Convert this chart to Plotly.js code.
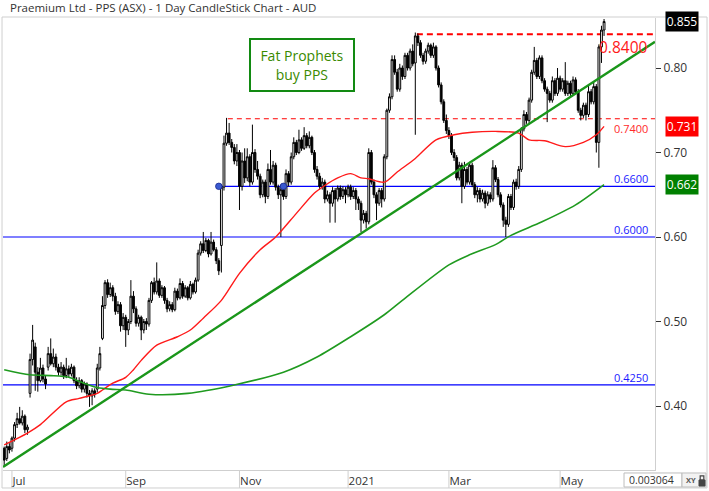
<!DOCTYPE html>
<html>
<head>
<meta charset="utf-8">
<script src="https://cdn.plot.ly/plotly-3.0.1.min.js"></script>
<style>html,body{margin:0;padding:0;background:#fff;}#chart{width:709px;height:491px;}</style>
</head>
<body>
<div id="chart"></div>
<script>
// ---- calendar ----
const firstDay = '2020-06-26';
const holidays = ['2020-12-25','2020-12-28','2021-01-01','2021-01-26','2021-04-02','2021-04-05'];
const tickDates = ['2020-07-01','2020-09-01','2020-11-02','2021-01-04','2021-03-01','2021-05-03'];
const tickLabels = ['Jul','Sep','Nov','2021','Mar','May'];

// ---- daily candles (AUD) ----
const open = [
.350,.338,.352,.350,.362,.378,.385,.380,.388,.372,
.415,.455,.470,.440,.430,.445,.432,.446,.462,.450,
.458,.446,.440,.446,.436,.444,.438,.446,.430,.424,
.430,.420,.426,.415,.412,.418,.420,.445,.480,.519,
.546,.532,.540,.530,.512,.520,.495,.505,.490,.500,
.530,.515,.498,.505,.490,.500,.497,.525,.546,.535,
.548,.531,.540,.525,.515,.520,.514,.536,.528,.545,
.530,.540,.528,.544,.535,.549,.581,.592,.584,.596,
.580,.594,.585,.572,.590,.659,.711,.723,.712,.706,
.690,.700,.660,.690,.670,.695,.665,.700,.680,.672,
.650,.665,.648,.680,.665,.685,.659,.650,.656,.648,
.675,.665,.695,.712,.700,.715,.705,.720,.708,.718,
.700,.680,.672,.660,.665,.645,.650,.640,.655,.645,
.658,.648,.656,.650,.659,.648,.655,.645,.640,.620,
.628,.618,.700,.665,.650,.640,.655,.645,.695,.750,
.766,.810,.795,.775,.800,.790,.815,.800,.820,.806,
.838,.830,.815,.808,.820,.827,.815,.825,.800,.780,
.760,.738,.726,.720,.700,.694,.670,.685,.660,.680,
.665,.685,.662,.650,.655,.645,.652,.640,.650,.645,
.682,.668,.650,.638,.620,.615,.648,.635,.665,.660,
.680,.728,.745,.738,.762,.795,.809,.790,.812,.785,
.775,.770,.762,.785,.770,.788,.775,.785,.770,.782,
.770,.786,.772,.750,.744,.756,.745,.772,.760,.778,
.712,.825,.845];
const high = [
.352,.358,.356,.364,.381,.392,.399,.395,.390,.378,
.462,.496,.475,.446,.457,.449,.436,.470,.480,.468,
.462,.450,.452,.449,.457,.448,.450,.448,.434,.434,
.432,.429,.428,.419,.421,.421,.450,.470,.530,.549,
.550,.546,.543,.534,.524,.523,.510,.508,.503,.549,
.536,.518,.508,.507,.503,.504,.528,.548,.552,.570,
.551,.543,.542,.528,.524,.523,.540,.539,.551,.548,
.543,.542,.548,.546,.552,.585,.595,.606,.599,.598,
.606,.597,.588,.575,.662,.720,.741,.735,.716,.710,
.710,.703,.700,.705,.705,.698,.733,.704,.690,.675,
.668,.668,.687,.703,.690,.688,.662,.662,.660,.680,
.678,.700,.718,.715,.727,.718,.730,.723,.725,.720,
.703,.684,.676,.670,.668,.655,.653,.659,.658,.661,
.661,.660,.659,.662,.662,.659,.658,.648,.643,.632,
.631,.705,.703,.668,.653,.658,.658,.698,.752,.770,
.815,.815,.799,.805,.803,.818,.818,.823,.828,.842,
.841,.833,.818,.823,.830,.829,.830,.827,.803,.783,
.763,.745,.730,.723,.704,.697,.689,.688,.689,.683,
.689,.688,.665,.659,.658,.656,.655,.654,.653,.691,
.685,.671,.653,.641,.624,.651,.651,.668,.669,.684,
.730,.750,.748,.765,.798,.825,.812,.815,.815,.788,
.778,.773,.790,.788,.800,.791,.788,.807,.785,.785,
.790,.789,.775,.753,.759,.759,.780,.775,.783,.781,
.828,.850,.858];
const low = [
.330,.335,.344,.346,.358,.374,.378,.377,.368,.366,
.410,.448,.418,.417,.428,.428,.420,.442,.448,.446,
.442,.436,.436,.432,.433,.434,.435,.427,.420,.421,
.416,.416,.410,.399,.401,.410,.416,.442,.478,.515,
.528,.529,.524,.508,.509,.488,.490,.470,.484,.497,
.510,.494,.494,.478,.486,.490,.494,.522,.532,.532,
.528,.528,.521,.511,.512,.511,.512,.525,.526,.527,
.528,.525,.526,.532,.533,.547,.578,.581,.582,.576,
.578,.583,.568,.555,.558,.655,.708,.709,.700,.686,
.684,.632,.655,.664,.666,.660,.662,.676,.668,.646,
.647,.640,.645,.662,.662,.655,.645,.600,.644,.645,
.660,.662,.692,.697,.698,.702,.703,.705,.705,.697,
.676,.668,.656,.656,.640,.642,.617,.636,.617,.642,
.644,.645,.640,.647,.644,.645,.632,.632,.606,.616,
.610,.615,.662,.646,.620,.637,.635,.642,.692,.747,
.763,.792,.772,.772,.786,.787,.797,.797,.802,.721,
.826,.812,.804,.805,.817,.812,.812,.797,.777,.757,
.735,.722,.716,.697,.690,.667,.667,.640,.657,.662,
.662,.659,.646,.641,.641,.642,.634,.637,.641,.642,
.665,.647,.635,.612,.600,.612,.632,.632,.656,.657,
.677,.725,.734,.735,.759,.792,.787,.787,.782,.772,
.736,.759,.759,.767,.767,.772,.772,.767,.767,.767,
.767,.769,.747,.738,.741,.738,.742,.757,.757,.700,
.682,.806,.838];
const close = [
.336,.352,.348,.362,.378,.385,.380,.388,.372,.375,
.455,.478,.440,.430,.445,.432,.426,.462,.450,.458,
.446,.440,.446,.436,.444,.438,.446,.430,.424,.430,
.420,.426,.415,.412,.418,.414,.445,.462,.519,.546,
.532,.540,.530,.512,.520,.495,.505,.490,.500,.530,
.515,.498,.505,.490,.500,.497,.525,.546,.535,.548,
.531,.540,.525,.515,.520,.514,.536,.528,.545,.530,
.540,.528,.544,.535,.549,.581,.592,.584,.596,.580,
.594,.585,.572,.560,.659,.711,.723,.712,.706,.690,
.700,.660,.690,.670,.695,.665,.700,.680,.672,.650,
.665,.648,.680,.665,.685,.659,.650,.656,.648,.675,
.665,.695,.712,.700,.715,.705,.720,.708,.718,.700,
.680,.672,.660,.665,.645,.650,.640,.655,.645,.658,
.648,.656,.650,.659,.648,.655,.645,.640,.620,.628,
.618,.700,.665,.650,.640,.655,.645,.695,.750,.766,
.810,.795,.775,.800,.790,.815,.800,.820,.805,.838,
.830,.815,.808,.820,.827,.815,.825,.800,.780,.760,
.738,.726,.720,.700,.694,.670,.685,.660,.680,.665,
.685,.662,.650,.655,.645,.652,.640,.650,.645,.682,
.668,.650,.638,.620,.615,.648,.635,.665,.660,.680,
.728,.745,.738,.762,.795,.809,.790,.812,.785,.775,
.770,.762,.785,.770,.788,.775,.785,.770,.782,.770,
.786,.772,.750,.744,.756,.745,.772,.760,.778,.712,
.825,.845,.855];

// ---- moving averages (sampled at trading-day index) ----
const redMaIdx = [0,9,14,24,29,36,38,42,47,50,53,59,67,72,77,84,91,99,105,113,120,124,129,134,138,141,147,152,159,167,174,181,190,199,203,209,217,224,229,232];
const redMaVal = [.354,.368,.378,.405,.409,.415,.419,.427,.434,.443,.454,.472,.482,.490,.504,.525,.557,.585,.600,.628,.652,.661,.670,.675,.670,.669,.665,.677,.693,.715,.721,.724,.725,.723,.715,.714,.707,.712,.721,.731];
const greenMaIdx = [0,10,18,25,30,36,41,47,56,71,89,108,121,134,147,154,172,180,190,196,208,221,232];
const greenMaVal = [.443,.437,.436,.434,.428,.422,.420,.419,.414,.415,.425,.440,.458,.482,.508,.525,.567,.579,.591,.602,.618,.638,.662];

// ---- drawn studies ----
const trendIdx = [-0.46, 251.7];
const trendVal = [0.328, 0.831];
const levelVal = [0.84, 0.74, 0.66, 0.60, 0.425];
const levelLabel = ['0.8400','0.7400','0.6600','0.6000','0.4250'];
const levelStartIdx = [159.6, 86.5, 83, -0.5, -0.5];
const dotIdx = [83, 108];
const dotVal = [0.66, 0.66];
const lastPrice = 0.855, lastRedMa = 0.731, lastGreenMa = 0.662;
const yTicks = [0.40, 0.50, 0.60, 0.70, 0.80];

// build trading-day calendar
const dates = [];
(function(){
  let d = new Date(firstDay + 'T00:00:00Z');
  while (dates.length < close.length) {
    const s = d.toISOString().slice(0,10);
    const wd = d.getUTCDay();
    if (wd !== 0 && wd !== 6 && holidays.indexOf(s) < 0) dates.push(s);
    d = new Date(d.getTime() + 86400000);
  }
})();

const xEnd = 251.7;
const xStart = -0.46;

const traces = [
  {type:'candlestick', x:dates, open:open, high:high, low:low, close:close,
   increasing:{line:{color:'#000', width:1}, fillcolor:'#ffffff'},
   decreasing:{line:{color:'#000', width:1}, fillcolor:'#000000'},
   whiskerwidth:0, showlegend:false, hoverinfo:'skip'},
  {type:'scatter', mode:'lines', x:redMaIdx.map(i=>dates[i]), y:redMaVal,
   line:{color:'#ff1a1a', width:1.4, shape:'spline', smoothing:0.8}, showlegend:false, hoverinfo:'skip'},
  {type:'scatter', mode:'lines', x:greenMaIdx.map(i=>dates[i]), y:greenMaVal,
   line:{color:'#1f9a1f', width:1.6, shape:'spline', smoothing:0.8}, showlegend:false, hoverinfo:'skip'},
  {type:'scatter', mode:'markers', x:dotIdx.map(i=>dates[i]), y:dotVal,
   marker:{color:'#3a5ad0', size:6.5, line:{color:'#1a2a90', width:0.8}}, showlegend:false, hoverinfo:'skip'}
];

const shapes = [];
// level lines
levelVal.forEach((v,k)=>{
  const isRed = k < 2;
  shapes.push({type:'line', xref:'x', yref:'y', x0:levelStartIdx[k], x1:xEnd, y0:v, y1:v,
    line:{color: isRed ? '#ff0000' : '#0000ff', width: k===0 ? 2 : 1.1, dash: isRed ? (k===0?'6px,4px':'5px,4px') : 'solid'}, layer:'below'});
});
// trend line
shapes.push({type:'line', xref:'x', yref:'y', x0:trendIdx[0], x1:trendIdx[1], y0:trendVal[0], y1:trendVal[1],
  line:{color:'#1a961a', width:2.4}});
// x-axis separators
tickDates.forEach(d=>{
  shapes.push({type:'line', xref:'x', yref:'paper', x0:d, x1:d, y0:0, y1:-0.0398, line:{color:'#cfcfcf', width:1}});
});
// outer frame
shapes.push({type:'rect', xref:'paper', yref:'paper', x0:-0.0015, x1:1.0798, y0:-0.0398, y1:1.0022, line:{color:'#cfcfcf', width:1}});
// coordinate box bottom-right
shapes.push({type:'rect', xref:'paper', yref:'paper', x0:0.9525, x1:1.0414, y0:-0.0066, y1:-0.0376, line:{color:'#bdbdbd', width:1}, fillcolor:'#ffffff'});
shapes.push({type:'rect', xref:'paper', yref:'paper', x0:1.0414, x1:1.0782, y0:-0.0066, y1:-0.0376, line:{color:'#bdbdbd', width:1}, fillcolor:'#f2f2f2'});
shapes.push({type:'rect', xref:'paper', yref:'paper', x0:1.0675, x1:1.0767, y0:-0.0221, y1:-0.0354, line:{color:'#444', width:1}, fillcolor:'#444'});
shapes.push({type:'rect', xref:'paper', yref:'paper', x0:1.0693, x1:1.0749, y0:-0.0221, y1:-0.0130, line:{color:'#444', width:1.2}, fillcolor:'rgba(0,0,0,0)'});

const F = '"Open Sans", "Noto Sans", sans-serif';
const annotations = [
  {xref:'paper', yref:'paper', x:0.0077, y:1.0243, xanchor:'left', yanchor:'middle', showarrow:false,
   text:'Praemium Ltd - PPS (ASX) - 1 Day CandleStick Chart - AUD', font:{family:F, size:11.5, color:'#333'}},
  {xref:'paper', yref:'paper', x:0.4586, y:0.896, xanchor:'center', yanchor:'middle', showarrow:false,
   text:'Fat Prophets<br>buy PPS', font:{family:F, size:14, color:'#3a8a00'},
   bordercolor:'#128a12', borderwidth:2, borderpad:3, bgcolor:'#ffffff', width:96, height:44},
  // level labels
  {xref:'paper', yref:'y', x:0.9923, y:levelVal[0], xanchor:'right', yanchor:'top', showarrow:false,
   text:levelLabel[0], font:{family:F, size:15.5, color:'#ff1a1a'}},
  {xref:'paper', yref:'y', x:0.9923, y:levelVal[1], xanchor:'right', yanchor:'top', showarrow:false,
   text:levelLabel[1], font:{family:F, size:11, color:'#ff2a2a'}},
  {xref:'paper', yref:'y', x:0.9923, y:levelVal[2], xanchor:'right', yanchor:'bottom', yshift:-2, showarrow:false,
   text:levelLabel[2], font:{family:F, size:11, color:'#1a1aff'}},
  {xref:'paper', yref:'y', x:0.9923, y:levelVal[3], xanchor:'right', yanchor:'bottom', yshift:-2, showarrow:false,
   text:levelLabel[3], font:{family:F, size:11, color:'#1a1aff'}},
  {xref:'paper', yref:'y', x:0.9923, y:levelVal[4], xanchor:'right', yanchor:'bottom', yshift:-2, showarrow:false,
   text:levelLabel[4], font:{family:F, size:11, color:'#1a1aff'}},
  // right price tags
  {xref:'paper', yref:'y', x:1.0153, y:lastPrice, xanchor:'left', yanchor:'middle', showarrow:false,
   text:lastPrice.toFixed(3), font:{family:F, size:12, color:'#fff'}, bgcolor:'#000', borderpad:1, width:30},
  {xref:'paper', yref:'y', x:1.0153, y:lastRedMa, xanchor:'left', yanchor:'middle', showarrow:false,
   text:lastRedMa.toFixed(3), font:{family:F, size:12, color:'#fff'}, bgcolor:'#ff0000', borderpad:1, width:30},
  {xref:'paper', yref:'y', x:1.0153, y:lastGreenMa, xanchor:'left', yanchor:'middle', showarrow:false,
   text:lastGreenMa.toFixed(3), font:{family:F, size:12, color:'#fff'}, bgcolor:'#008000', borderpad:1, width:30},
  // coordinate box
  {xref:'paper', yref:'paper', x:0.9570, y:-0.0221, xanchor:'left', yanchor:'middle', showarrow:false,
   text:'0.003064', font:{family:F, size:10.5, color:'#333'}},
  {xref:'paper', yref:'paper', x:1.0545, y:-0.0221, xanchor:'center', yanchor:'middle', showarrow:false,
   text:'<b>XY</b>', font:{family:F, size:7.5, color:'#555'}}
];

const layout = {
  width:709, height:491,
  margin:{l:3, r:54, t:18, b:21, pad:0},
  paper_bgcolor:'#fff', plot_bgcolor:'#fff',
  showlegend:false,
  boxgap:0,
  xaxis:{type:'category', categoryorder:'array', categoryarray:dates,
    range:[xStart, xEnd], rangeslider:{visible:false},
    tickmode:'array', tickvals:tickDates, ticktext:tickLabels, ticks:'',
    ticklabelposition:'outside right',
    tickfont:{family:F, size:11.5, color:'#333'},
    showgrid:false, zeroline:false, showline:true, linecolor:'#cfcfcf', linewidth:1, fixedrange:true},
  yaxis:{side:'right', range:[0.3243, 0.8592], tickmode:'array', tickvals:yTicks,
    ticktext:yTicks.map(v=>v.toFixed(2)), ticks:'outside', ticklen:5, tickcolor:'#333',
    tickfont:{family:F, size:12, color:'#333'},
    showgrid:false, zeroline:false, showline:true, linecolor:'#cfcfcf', linewidth:1, fixedrange:true},
  shapes:shapes,
  annotations:annotations
};

Plotly.newPlot('chart', traces, layout, {displayModeBar:false, staticPlot:true});
</script>
</body>
</html>
